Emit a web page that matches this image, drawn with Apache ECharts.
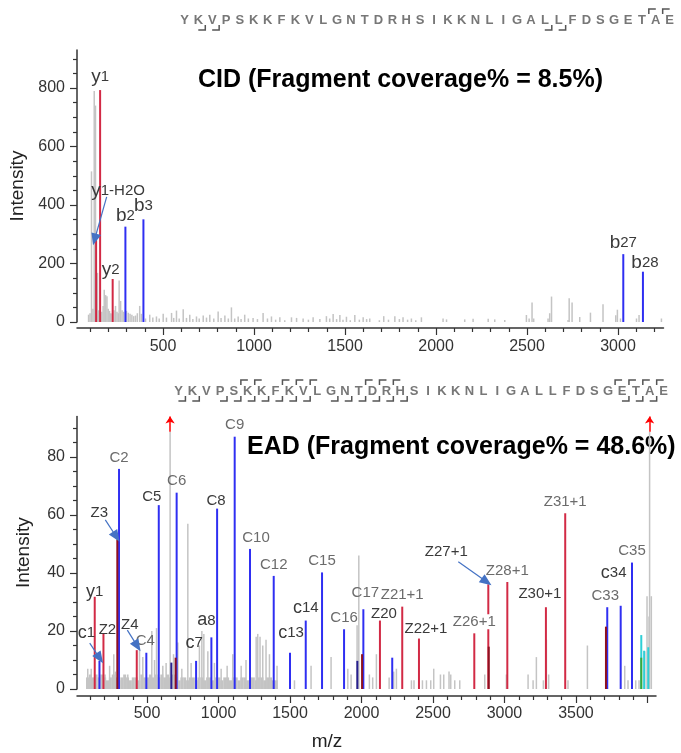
<!DOCTYPE html>
<html>
<head>
<meta charset="utf-8">
<script src="https://cdn.jsdelivr.net/npm/echarts@6/dist/echarts.min.js"></script>
<style>
  html, body { margin: 0; padding: 0; background: #fff; }
  #chart { width: 681px; height: 753px; }
</style>
</head>
<body>
<div id="chart"></div>
<script>
// peptide and fragment breaks
const sequence = 'YKVPSKKFKVLGNTDRHSIKKNLIGALLFDSGETAE';
const cidNBreaks = [2, 3, 27, 28];
const cidCBreaks = [1, 2];
const eadNBreaks = [1, 2, 4, 5, 6, 7, 8, 9, 10, 12, 13, 14, 15, 16, 17, 33, 34, 35];
const eadCBreaks = [1, 2, 3, 4, 20, 21, 22, 26, 27, 28, 30, 31];

// CID spectrum [m/z, intensity]
const cidNoise = [[92, 25], [100, 30], [108, 515], [116, 45], [123, 790], [130, 740], [141, 168], [148, 40], [156, 30], [165, 35],
  [172, 55], [178, 110], [186, 92], [193, 88], [200, 45], [207, 38], [214, 30], [222, 28], [232, 40], [240, 55], [248, 35],
  [255, 30], [260, 142], [268, 72], [276, 40], [284, 35], [300, 38], [310, 32], [320, 28], [330, 25], [340, 20], [350, 22],
  [360, 30], [373, 55], [382, 28], [405, 12], [428, 25], [445, 15], [465, 19], [480, 12], [502, 28], [520, 15], [548, 31],
  [560, 14], [575, 39], [590, 12], [612, 44], [630, 14], [648, 25], [665, 10], [685, 19], [700, 12], [722, 22], [740, 15],
  [758, 25], [780, 12], [804, 36], [820, 14], [841, 22], [860, 12], [877, 50], [895, 12], [914, 19], [930, 10], [950, 25],
  [970, 12], [996, 14], [1020, 10], [1051, 31], [1075, 12], [1097, 19], [1120, 8], [1143, 16], [1170, 6], [1207, 16],
  [1235, 14], [1271, 12], [1300, 8], [1326, 16], [1363, 10], [1399, 20], [1417, 12], [1436, 27], [1455, 10], [1473, 24],
  [1490, 8], [1509, 18], [1530, 6], [1555, 24], [1580, 8], [1601, 16], [1620, 10], [1637, 12], [1690, 6], [1714, 20],
  [1740, 8], [1775, 20], [1800, 10], [1820, 16], [1845, 8], [1866, 12], [1890, 6], [1921, 16], [2040, 12], [2059, 9],
  [2159, 9], [2205, 11], [2288, 11], [2324, 9], [2379, 7], [2498, 24], [2513, 12], [2529, 67], [2538, 12], [2617, 12],
  [2626, 30], [2636, 87], [2727, 7], [2733, 81], [2749, 67], [2791, 17], [2850, 32], [2919, 61], [2989, 23], [2998, 42],
  [3015, 12], [3103, 12], [3117, 24], [3240, 12]];
const cidY = [[132, 280], [154, 793], [223, 147]];
const cidYNames = ['y1-H2O', 'y1', 'y2'];
const cidB = [[293, 326], [392, 351], [3029, 232], [3137, 172]];
const cidBNames = ['b2', 'b3', 'b27', 'b28'];
const cidArrows = [[[190, 428], [124, 282]]];

// EAD spectrum [m/z, intensity]
const eadBase = [[80, 4], [100, 5], [120, 4], [140, 5], [160, 4], [180, 5], [200, 4], [220, 3], [240, 4], [260, 5],
  [280, 4], [300, 3], [320, 4], [340, 5], [360, 4], [380, 3], [400, 4], [420, 4], [440, 3], [460, 5], [480, 4], [500, 4],
  [520, 5], [540, 4], [560, 5], [580, 4], [600, 5], [620, 4], [640, 5], [660, 4], [680, 5], [700, 4], [720, 3], [740, 4],
  [760, 4], [780, 3], [800, 4], [820, 4], [840, 3], [860, 4], [880, 4], [900, 3], [920, 4], [940, 4], [960, 3], [980, 4],
  [1000, 4], [1020, 3], [1040, 4], [1060, 4], [1080, 3], [1100, 4], [1120, 4], [1140, 3], [1160, 4], [1180, 4], [1200, 3],
  [1220, 4], [1240, 4], [1260, 3], [1280, 4], [1300, 4], [1320, 3], [1340, 4], [1360, 4], [1380, 3], [1400, 3]];
const eadNoise = [[87, 7], [111, 7], [208, 5], [240, 8], [269, 12], [280, 6], [344, 4], [367, 5], [449, 14], [472, 11],
  [535, 20], [554, 10], [568, 21], [612, 8], [635, 9], [663, 88.7], [687, 12], [717, 16], [745, 7], [787, 57], [810, 9],
  [868, 15], [885, 20], [899, 19], [927, 13], [973, 9], [1020, 7], [1062, 8], [1101, 12], [1160, 8], [1194, 10], [1265, 18],
  [1276, 19], [1292, 18], [1311, 15], [1334, 17], [1358, 12], [1411, 8], [1533, 3], [1649, 8], [1789, 11], [1906, 7],
  [1929, 5], [1971, 22], [1983, 46], [2057, 5], [2080, 4], [2106, 12], [2195, 4], [2227, 6], [2246, 7], [2351, 3], [2369, 3],
  [2428, 3], [2456, 3], [2486, 3], [2507, 7], [2554, 5], [2577, 5], [2614, 6], [2626, 5], [2654, 3], [2689, 3], [2864, 5],
  [3015, 5], [3167, 5], [3202, 3], [3225, 11], [3274, 3], [3295, 17], [3311, 5], [3446, 3], [3582, 15], [3843, 8], [3866, 3],
  [3920, 3], [3943, 3], [3983, 13], [3999, 32], [4013, 25], [4017, 88.7], [4029, 32]];
const eadClipped = [663, 4017];
const eadC = [[167, 9.7], [304, 75.9], [495, 12.5], [582, 63.4], [707, 67.7], [843, 9.7], [950, 17.8], [990, 62.2],
  [1113, 87], [1220, 48.3], [1386, 39], [1500, 12.5], [1610, 23.6], [1724, 40.2], [1878, 20.6], [2013, 27.5], [2215, 10.8],
  [3719, 28.2], [3813, 28.7], [3892, 43.6]];
const eadCNames = ['c1', 'C2', 'C4', 'C5', 'C6', 'c7', 'a8', 'C8', 'C9', 'C10', 'C12', 'c13', 'c14', 'C15', 'C16', 'C17', '',
  'C33', 'c34', 'C35'];
const eadNavy = [[670, 9.1], [1971, 9.7]];
const eadZ = [[134, 31.8], [195, 19.2], [428, 13.4], [2129, 23.6], [2285, 28.4], [2402, 17.4], [2789, 19.2], [2887, 36.1],
  [3020, 36.9], [3290, 28.2], [3425, 60.6]];
const eadZNames = ['y1', 'Z2', 'Z4', 'Z20', 'Z21+1', 'Z22+1', 'Z26+1', 'Z27+1', 'Z28+1', 'Z30+1', 'Z31+1'];
const eadZDark = [[292, 51.6], [700, 10.8], [2004, 12], [2890, 14.6], [3710, 21.5]];
const eadZDarkNames = ['Z3', '', '', '', ''];
const eadCyan = [[3957, 18.6], [3977, 13.2], [4006, 14.4]];
const eadGreen = [[3957, 10.8]];
const eadArrows = [[[99, 15.8], [169, 10.6]], [[208, 58.3], [285, 52.5]], [[362, 20.3], [432, 14.8]], [[2677, 43.9], [2875, 37]]];

// ticks
const cidXMajor = [500, 1000, 1500, 2000, 2500, 3000];
const cidXMinor = [100, 200, 300, 400, 600, 700, 800, 900, 1100, 1200, 1300, 1400, 1600, 1700, 1800, 1900, 2100, 2200,
  2300, 2400, 2600, 2700, 2800, 2900, 3100, 3200];
const cidYMajor = [0, 200, 400, 600, 800];
const cidYMinor = [50, 100, 150, 250, 300, 350, 450, 500, 550, 650, 700, 750, 850, 900];
const eadXMajor = [500, 1000, 1500, 2000, 2500, 3000, 3500, 4000];
const eadXLabels = [500, 1000, 1500, 2000, 2500, 3000, 3500];
const eadXMinor = [100, 200, 300, 400, 600, 700, 800, 900, 1100, 1200, 1300, 1400, 1600, 1700, 1800, 1900, 2100, 2200,
  2300, 2400, 2600, 2700, 2800, 2900, 3100, 3200, 3300, 3400, 3600, 3700, 3800, 3900];
const eadYMajor = [0, 20, 40, 60, 80];
const eadYMinor = [5, 10, 15, 25, 30, 35, 45, 50, 55, 65, 70, 75, 85, 90];

const FONT = '"Liberation Sans", Arial, sans-serif';
const GRAY = '#c4c4c4', RED = '#d22a45', BLUE = '#2f2ff2', DARKRED = '#8e1020', NAVY = '#28208f';

const cidShift = { 'y1-H2O': [22, -36], y2: [-2, 4], b2: [0, 3], b27: [0, 2], b28: [2, 5] };
const eadShift = { c1: [-13, -15], y1: [0, 8], Z2: [4, 8], Z3: [-18, -15], Z4: [-7, -14], C4: [-1, 0], C5: [-7, 3],
  c7: [-2, -5], a8: [-5, -4], C8: [-1, 4], C10: [6, 0], c13: [1, -7], C17: [2, -5], Z20: [4, 5], 'Z22+1': [7, 2],
  'Z27+1': [-42, -21], 'Z30+1': [-6, -2], C33: [-2, 0], c34: [-7, -20] };
const eadDark = ['y1', 'c1', 'Z2', 'Z3', 'Z4', 'C5', 'c7', 'a8', 'C8', 'c13', 'c14', 'Z20', 'Z22+1', 'Z27+1', 'Z30+1', 'c34'];

function labeled(points, names, shift, dark) {
  return points.map((p, i) => {
    const n = names[i];
    if (!n) return { value: p };
    const small = n[0] === n[0].toLowerCase();
    return {
      value: p,
      label: {
        show: true,
        position: 'top',
        distance: 4,
        offset: shift[n] || [0, 0],
        color: dark && dark.indexOf(n) < 0 ? '#6b6b6b' : '#3a3a3a',
        backgroundColor: n === 'Z26+1' ? '#fff' : 'transparent',
        formatter: '{' + (small ? 'm' : 'l') + '|' + n[0] + '}{n|' + n.slice(1) + '}'
      }
    };
  });
}

function arrowLines(list, color, size) {
  return {
    silent: true,
    animation: false,
    symbol: ['none', 'triangle'],
    symbolSize: size,
    label: { show: false },
    emphasis: { disabled: true },
    lineStyle: { color: color, width: 1.2, type: 'solid' },
    data: list.map(a => [{ coord: a[0] }, { coord: a[1] }])
  };
}

function sticks(x, y, data, color, width, extra) {
  return Object.assign({
    type: 'bar', xAxisIndex: x, yAxisIndex: y, data: data, barWidth: width, barGap: '-100%',
    itemStyle: { color: color }, silent: true, animation: false
  }, extra || {});
}

function xAxes(grid, min, max, majors, labels, minors, offset, margin) {
  const base = { gridIndex: grid, type: 'value', position: 'bottom', min: min, max: max, offset: offset, splitLine: { show: false } };
  return [
    Object.assign({}, base, {
      axisLine: { onZero: false, lineStyle: { color: '#333', width: 1.5 } },
      axisTick: { show: true, customValues: majors, length: 7, lineStyle: { color: '#333', width: 1.2 } },
      axisLabel: { customValues: labels, margin: margin, fontSize: 16, color: '#333', fontFamily: FONT,
        formatter: v => String(v) }
    }),
    Object.assign({}, base, {
      axisLine: { show: false, onZero: false },
      axisLabel: { show: false },
      axisTick: { show: true, customValues: minors, length: 4, lineStyle: { color: '#333', width: 1.2 } }
    })
  ];
}

function yAxes(grid, max, majors, minors) {
  const base = { gridIndex: grid, type: 'value', position: 'left', min: 0, max: max, splitLine: { show: false } };
  return [
    Object.assign({}, base, {
      name: 'Intensity', nameLocation: 'middle', nameGap: 44,
      nameTextStyle: { fontSize: 19, color: '#222', fontFamily: FONT },
      axisLine: { show: true, onZero: false, lineStyle: { color: '#333', width: 1.5 } },
      axisTick: { show: true, customValues: majors, length: 7, lineStyle: { color: '#333', width: 1.2 } },
      axisLabel: { customValues: majors, margin: 12, fontSize: 16, color: '#333', fontFamily: FONT,
        formatter: v => String(v) }
    }),
    Object.assign({}, base, {
      axisLine: { show: false, onZero: false },
      axisLabel: { show: false },
      axisTick: { show: true, customValues: minors, length: 4, lineStyle: { color: '#333', width: 1.2 } }
    })
  ];
}

function seqGraphics(x0, yMid, nBreaks, cBreaks) {
  const step = 13.86;
  const out = [];
  for (let i = 0; i < sequence.length; i++) {
    out.push({
      type: 'text', x: x0 + i * step, y: yMid, silent: true,
      style: { text: sequence[i], fill: '#777', fontSize: 13, fontWeight: 'bold', fontFamily: FONT,
        align: 'center', verticalAlign: 'middle', textAlign: 'center', textVerticalAlign: 'middle' }
    });
  }
  const ln = { stroke: '#555', lineWidth: 1.5, fill: null };
  nBreaks.forEach(n => {
    const bx = x0 + (n - 0.5) * step;
    out.push({ type: 'polyline', silent: true, shape: { points: [[bx - 7, yMid + 10], [bx, yMid + 10], [bx, yMid + 5]] }, style: ln });
  });
  cBreaks.forEach(j => {
    const bx = x0 + (sequence.length - j - 0.5) * step;
    out.push({ type: 'polyline', silent: true, shape: { points: [[bx, yMid - 6], [bx, yMid - 11], [bx + 7, yMid - 11]] }, style: ln });
  });
  return out;
}

function titleText(x, y, text) {
  return {
    type: 'text', x: x, y: y, silent: true,
    style: { text: text, fill: '#000', fontSize: 25, fontWeight: 'bold', fontFamily: FONT,
      align: 'left', verticalAlign: 'middle', textAlign: 'left', textVerticalAlign: 'middle' }
  };
}

const chart = echarts.init(document.getElementById('chart'), null, { renderer: 'canvas' });

const topRich = { l: { fontSize: 19 }, m: { fontSize: 19 }, n: { fontSize: 15 } };
const botRich = { l: { fontSize: 15 }, m: { fontSize: 18 }, n: { fontSize: 15 } };

chart.setOption({
  animation: false,
  grid: [
    { left: 77, right: 17.5, top: 50, height: 272 },
    { left: 77, right: 25, top: 416.4, height: 272.6 }
  ],
  xAxis: [].concat(
    xAxes(0, 27, 3250, cidXMajor, cidXMajor, cidXMinor, 6, 11),
    xAxes(1, 10, 4060, eadXMajor, eadXLabels, eadXMinor, 7, 10)
  ),
  yAxis: [].concat(
    yAxes(0, 930, cidYMajor, cidYMinor),
    yAxes(1, 94, eadYMajor, eadYMinor)
  ),
  series: [
    sticks(0, 0, cidNoise, GRAY, 1.5),
    sticks(0, 0, labeled(cidY, cidYNames, cidShift, null), RED, 2, {
      label: { fontFamily: FONT, color: '#5a5a5a', rich: topRich },
      markLine: arrowLines(cidArrows, '#4472c4', [10, 12])
    }),
    sticks(0, 0, labeled(cidB, cidBNames, cidShift, null), BLUE, 2, {
      label: { fontFamily: FONT, color: '#5a5a5a', rich: topRich }
    }),

    sticks(2, 2, eadBase, GRAY, 3),
    sticks(2, 2, eadNoise, GRAY, 1.5, {
      markLine: {
        silent: true, animation: false, symbol: ['none', 'arrow'], symbolSize: 7,
        label: { show: false }, emphasis: { disabled: true },
        lineStyle: { color: '#ff0000', width: 1.5, type: 'solid' },
        data: eadClipped.map(x => [{ coord: [x, 88.7] }, { coord: [x, 94] }])
      }
    }),
    sticks(2, 2, labeled(eadC, eadCNames, eadShift, eadDark), BLUE, 2, {
      label: { fontFamily: FONT, rich: botRich },
      markLine: arrowLines(eadArrows, '#4472c4', [10, 12])
    }),
    sticks(2, 2, eadNavy, NAVY, 2),
    sticks(2, 2, labeled(eadZ, eadZNames, eadShift, eadDark), RED, 2, {
      label: { fontFamily: FONT, rich: botRich }
    }),
    sticks(2, 2, labeled(eadZDark, eadZDarkNames, eadShift, eadDark), DARKRED, 2, {
      label: { fontFamily: FONT, rich: botRich }
    }),
    sticks(2, 2, eadCyan, '#2fcfd6', 2),
    sticks(2, 2, eadGreen, '#3aa83a', 2)
  ],
  graphic: [].concat(
    seqGraphics(184.5, 20, cidNBreaks, cidCBreaks),
    seqGraphics(178.5, 391, eadNBreaks, eadCBreaks),
    [
      titleText(198, 80, 'CID (Fragment coverage% = 8.5%)'),
      titleText(247, 447, 'EAD (Fragment coverage% = 48.6%)'),
      {
        type: 'text', x: 327, y: 742, silent: true,
        style: { text: 'm/z', fill: '#222', fontSize: 19, fontFamily: FONT,
          align: 'center', verticalAlign: 'middle', textAlign: 'center', textVerticalAlign: 'middle' }
      }
    ]
  )
});
</script>
</body>
</html>
